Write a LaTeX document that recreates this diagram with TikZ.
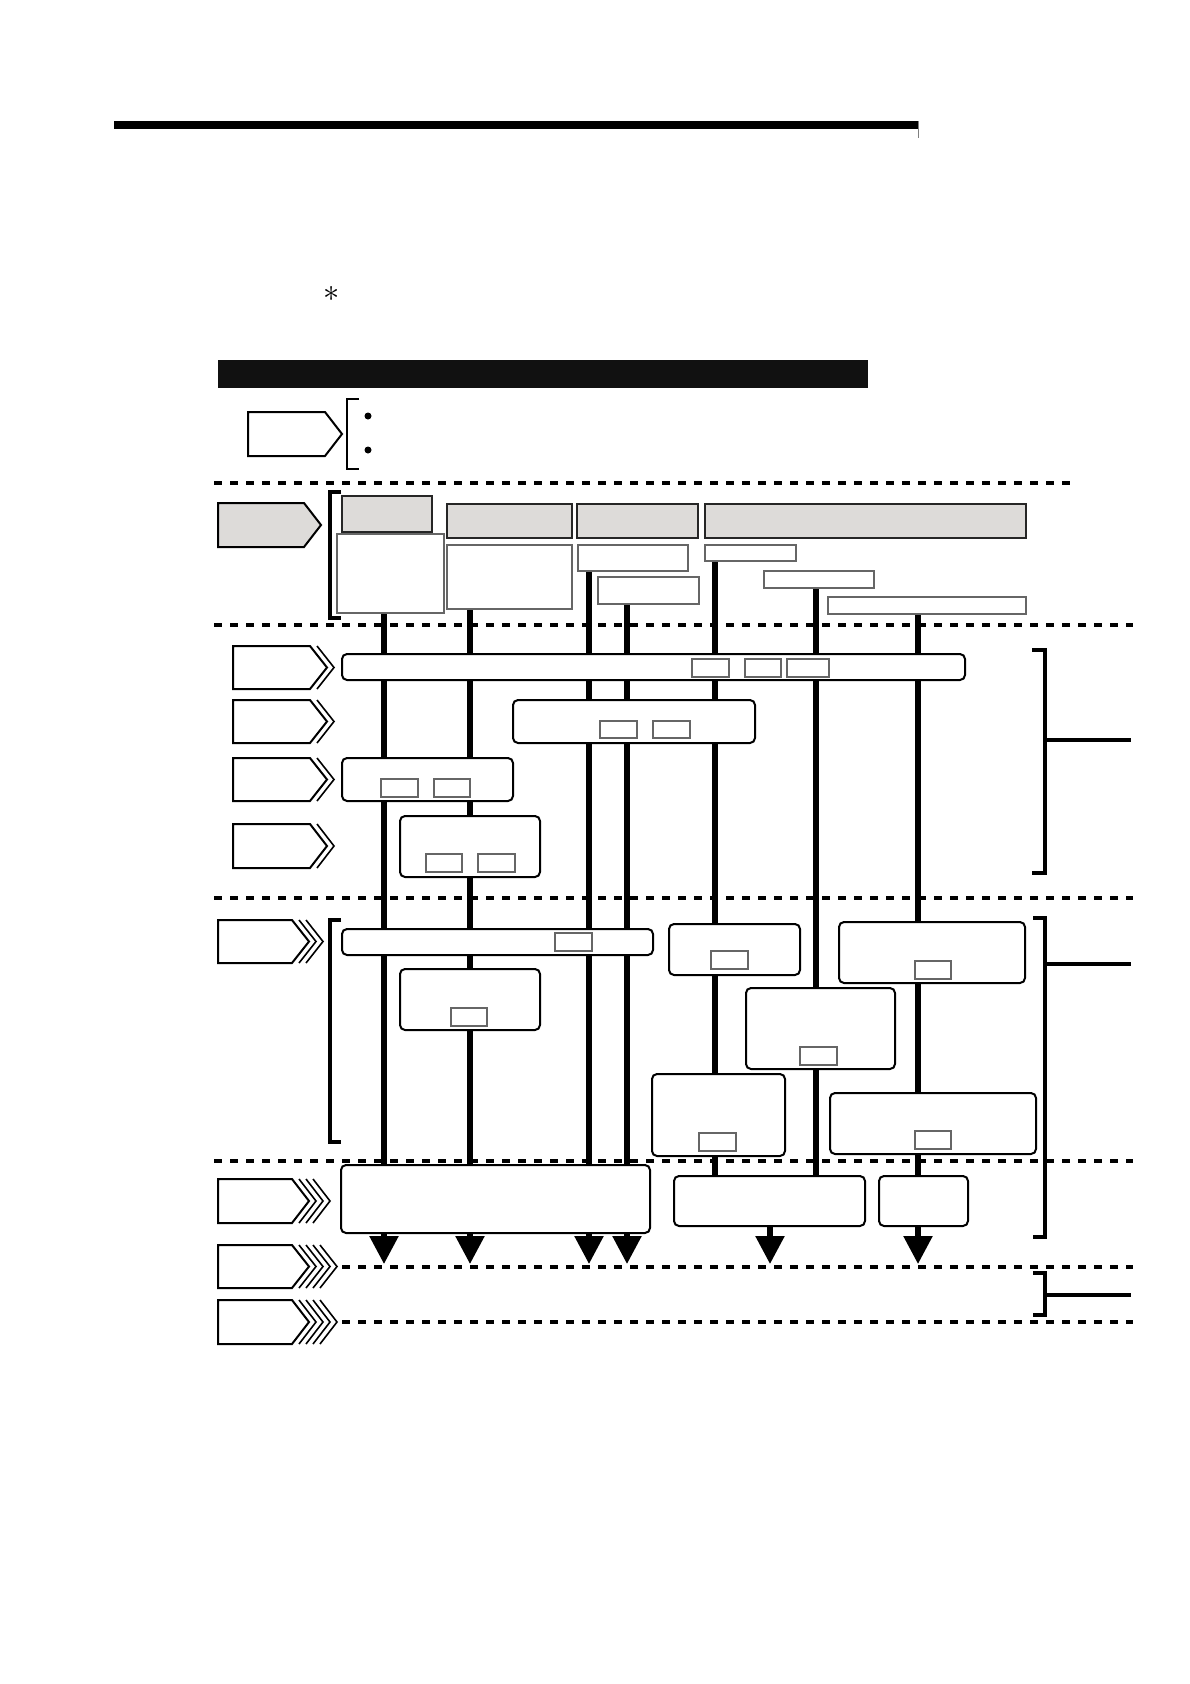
\documentclass[tikz,border=0pt]{standalone}
\usetikzlibrary{arrows.meta,backgrounds}
\definecolor{hgrey}{HTML}{DDDBD9}
\definecolor{barblack}{HTML}{111111}
\tikzset{
  rbox/.style={draw=black, line width=2pt, rounded corners=5pt, fill=white, inner sep=0pt, outer sep=0pt, anchor=north west},
  sbox/.style={draw=black!60, line width=1.2pt, fill=white, inner sep=0pt, outer sep=0pt, anchor=north west},
  hbox/.style={draw=black!85, line width=2.2pt, fill=hgrey, inner sep=0pt, outer sep=0pt, anchor=north west},
  wbox/.style={draw=black!60, line width=1.4pt, fill=white, inner sep=0pt, outer sep=0pt, anchor=north west},
  vline/.style={line width=5.5pt, black},
  dotline/.style={line width=4pt, dash pattern=on 8pt off 8pt, black},
  arr/.style={line width=5.5pt, black, -{Triangle[length=28pt,width=28pt]}},
  brk/.style={line width=3.5pt, black},
  chevout/.style={line width=2pt, black, line join=miter},
  chevin/.style={line width=1.6pt, black, line join=miter},
}
\newcommand\mkbox[6]{\node[#1, minimum width={(#5-#3)*1pt}, minimum height={(#6-#4)*1pt}] (#2) at (#3,#4) {};}
% x0, xb, y0, y1, extra chevrons, fill
\newcommand\mkchev[6]{%
  \pgfmathsetmacro\chevym{(#3+#4)/2}%
  \draw[chevout, fill=#6] (#1,#3) -- (#2,#3) -- ({#2+17},\chevym) -- (#2,#4) -- (#1,#4) -- cycle;
  \ifnum#5>0
    \foreach \k in {1,...,#5}{
      \draw[chevin] ({#2+7*\k},#3) -- ({#2+17+7*\k},\chevym) -- ({#2+7*\k},#4);
    }
  \fi
}
\begin{document}
\begin{tikzpicture}[x=1pt,y=-1pt]
\useasboundingbox (0,0) rectangle (1190,1684);
\begin{pgfonlayer}{background}
  \fill[white] (0,0) rectangle (1190,1684);
\end{pgfonlayer}

% top rule
\fill[black] (114,121) rectangle (918,129);
\draw[black!50, line width=1pt] (918.5,121) -- (918.5,138);

% asterisk
\node[inner sep=0pt, font=\Huge, scale=1.3] (ast) at (332,294) {$\ast$};

% black title bar
\fill[barblack] (218,360) rectangle (868,388);

% legend pentagon + bracket + bullets
\mkchev{248}{325}{412}{456}{0}{white}
\draw[line width=2pt] (359,399) -- (347,399) -- (347,469) -- (359,469);
\fill (368,416) circle (3.5);
\fill (368,450) circle (3.5);

% dotted separators
\draw[dotline] (214,483) -- (1071,483);
\draw[dotline] (214,625) -- (1133,625);
\draw[dotline] (214,898) -- (1133,898);
\draw[dotline] (214,1161) -- (1133,1161);
\draw[dotline] (342,1267) -- (1133,1267);
\draw[dotline] (342,1322) -- (1133,1322);

% grey pentagon + bracket
\mkchev{218}{304}{503}{547}{0}{hgrey}
\draw[brk] (341,492) -- (330,492) -- (330,618) -- (341,618);

% header boxes
\mkbox{hbox}{HA}{342}{496}{432}{532}
\mkbox{hbox}{HB}{447}{504}{572}{538}
\mkbox{hbox}{HC}{577}{504}{698}{538}
\mkbox{hbox}{HD}{705}{504}{1026}{538}
\mkbox{wbox}{A2}{337}{534}{444}{613}
\mkbox{wbox}{B2}{447}{545}{572}{609}
\mkbox{wbox}{C2}{578}{545}{688}{571}
\mkbox{wbox}{C3}{598}{577}{699}{604}
\mkbox{wbox}{D2}{705}{545}{796}{561}
\mkbox{wbox}{D3}{764}{571}{874}{588}
\mkbox{wbox}{D4}{828}{597}{1026}{614}

% section 3 pentagons
\mkchev{233}{310}{646}{689}{1}{white}
\mkchev{233}{310}{700}{743}{1}{white}
\mkchev{233}{310}{758}{801}{1}{white}
\mkchev{233}{310}{824}{868}{1}{white}

% section 3 boxes
\mkbox{rbox}{R1}{342}{654}{965}{680}
\mkbox{sbox}{R1a}{692}{659}{729}{677}
\mkbox{sbox}{R1b}{745}{659}{781}{677}
\mkbox{sbox}{R1c}{787}{659}{829}{677}
\mkbox{rbox}{R2}{513}{700}{755}{743}
\mkbox{sbox}{R2a}{600}{721}{637}{738}
\mkbox{sbox}{R2b}{653}{721}{690}{738}
\mkbox{rbox}{R3}{342}{758}{513}{801}
\mkbox{sbox}{R3a}{381}{779}{418}{797}
\mkbox{sbox}{R3b}{434}{779}{470}{797}
\mkbox{rbox}{R4}{400}{816}{540}{877}
\mkbox{sbox}{R4a}{426}{854}{462}{872}
\mkbox{sbox}{R4b}{478}{854}{515}{872}

% right bracket 1
\draw[brk] (1032,650) -- (1045,650) -- (1045,873) -- (1032,873);
\draw[brk] (1045,740) -- (1131,740);

% section 4
\mkchev{218}{292}{920}{963}{2}{white}
\draw[brk] (341,920) -- (330,920) -- (330,1142) -- (341,1142);
\mkbox{rbox}{S1}{342}{929}{653}{955}
\mkbox{sbox}{S1a}{555}{933}{592}{951}
\mkbox{rbox}{S2}{400}{969}{540}{1030}
\mkbox{sbox}{S2a}{451}{1008}{487}{1026}
\mkbox{rbox}{S3}{669}{924}{800}{975}
\mkbox{sbox}{S3a}{711}{951}{748}{969}
\mkbox{rbox}{S4}{839}{922}{1025}{983}
\mkbox{sbox}{S4a}{915}{961}{951}{979}
\mkbox{rbox}{S5}{746}{988}{895}{1069}
\mkbox{sbox}{S5a}{800}{1047}{837}{1065}
\mkbox{rbox}{S6}{652}{1074}{785}{1156}
\mkbox{sbox}{S6a}{699}{1133}{736}{1151}
\mkbox{rbox}{S7}{830}{1093}{1036}{1154}
\mkbox{sbox}{S7a}{915}{1131}{951}{1149}

% right bracket 2
\draw[brk] (1033,918) -- (1045,918) -- (1045,1237) -- (1033,1237);
\draw[brk] (1045,964) -- (1131,964);

% section 5
\mkchev{218}{292}{1179}{1223}{3}{white}
\mkchev{218}{292}{1245}{1288}{4}{white}
\mkchev{218}{292}{1300}{1344}{4}{white}
\mkbox{rbox}{T1}{341}{1165}{650}{1233}
\mkbox{rbox}{T2}{674}{1176}{865}{1226}
\mkbox{rbox}{T3}{879}{1176}{968}{1226}

% right bracket 3
\draw[brk] (1033,1273) -- (1045,1273) -- (1045,1315) -- (1033,1315);
\draw[brk] (1045,1295) -- (1131,1295);

% column coordinates
\coordinate (c1) at (384,0);
\coordinate (c2) at (470,0);
\coordinate (c3) at (589,0);
\coordinate (c4) at (627,0);
\coordinate (c5) at (715,0);
\coordinate (c6) at (816,0);
\coordinate (c7) at (918,0);
\coordinate (c8) at (770,0);
\coordinate (tipline) at (0,1264);

% vertical flow lines (behind the boxes)
\begin{pgfonlayer}{background}
  \draw[vline] (A2.south -| c1) -- (T1.north -| c1);
  \draw[vline] (B2.south -| c2) -- (T1.north -| c2);
  \draw[vline] (C2.south -| c3) -- (T1.north -| c3);
  \draw[vline] (C3.south -| c4) -- (T1.north -| c4);
  \draw[vline] (D2.south -| c5) -- (T2.north -| c5);
  \draw[vline] (D3.south -| c6) -- (T2.north -| c6);
  \draw[vline] (D4.south -| c7) -- (T3.north -| c7);
\end{pgfonlayer}

% output arrows
\draw[arr] (T1.south -| c1) -- (tipline -| c1);
\draw[arr] (T1.south -| c2) -- (tipline -| c2);
\draw[arr] (T1.south -| c3) -- (tipline -| c3);
\draw[arr] (T1.south -| c4) -- (tipline -| c4);
\draw[arr] (T2.south -| c8) -- (tipline -| c8);
\draw[arr] (T3.south -| c7) -- (tipline -| c7);
\end{tikzpicture}
\end{document}
